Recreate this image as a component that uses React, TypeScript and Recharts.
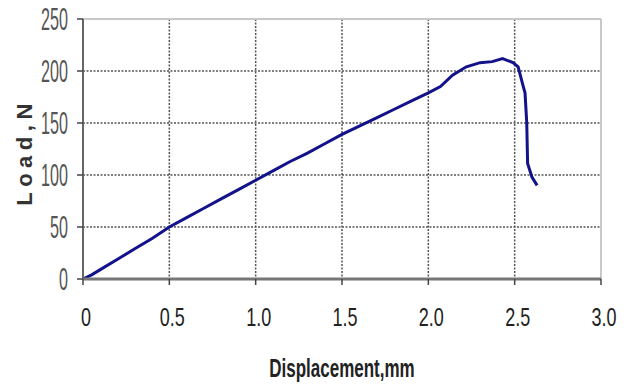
import { CartesianGrid, Line, LineChart, ReferenceLine, XAxis, YAxis } from "recharts"

// displacement (mm) and load (N)
const displacement = [
  0, 0.05, 0.1, 0.2, 0.3, 0.4, 0.5, 0.6, 0.7, 0.8, 0.9, 1.0, 1.1, 1.2, 1.3, 1.4, 1.5, 1.6, 1.7, 1.8, 1.9, 2.0,
  2.07, 2.14, 2.22, 2.3, 2.37, 2.43, 2.49, 2.52, 2.55, 2.56, 2.57, 2.575, 2.6, 2.63,
]
const load = [
  0, 4, 9, 19, 29, 39, 50, 59, 68, 77, 86, 95, 104, 113, 121, 130, 139, 147, 155, 163, 171, 179,
  185, 196, 204, 208, 209, 212, 208, 204, 185, 179, 150, 111, 98, 90,
]
const xTicks = [0, 0.5, 1.0, 1.5, 2.0, 2.5, 3.0]
const yTicks = [0, 50, 100, 150, 200, 250]

const data = displacement.map((x, i) => ({ x, load: load[i] }))

const sans = "'Liberation Sans', Arial, sans-serif"

function YTick({ x, y, payload }: { x?: number; y?: number; payload?: { value: number } }) {
  return (
    <g transform={`translate(${x},${y}) scale(0.95,1.8)`}>
      <text x={0} y={0} dy={6} textAnchor="end" fontFamily={sans} fontSize={17} fill="#555">
        {payload?.value}
      </text>
    </g>
  )
}

function XTick({ x, y, payload }: { x?: number; y?: number; payload?: { value: number } }) {
  const v = payload?.value ?? 0
  return (
    <g transform={`translate(${(x ?? 0) + 3},${(y ?? 0) + 41}) scale(1,1.4)`}>
      <text x={0} y={0} textAnchor="middle" fontFamily={sans} fontSize={18} fill="#222">
        {v === 0 ? "0" : v.toFixed(1)}
      </text>
    </g>
  )
}

function XTitle({ viewBox }: { viewBox?: { x: number; y: number; width: number } }) {
  const cx = (viewBox?.x ?? 0) + (viewBox?.width ?? 0) / 2
  return (
    <g transform={`translate(${cx},377) scale(0.85,1.33)`}>
      <text x={0} y={0} textAnchor="middle" fontFamily={sans} fontWeight="bold" fontSize={20} fill="#222">
        Displacement,mm
      </text>
    </g>
  )
}

function YTitle({ viewBox }: { viewBox?: { y: number; height: number } }) {
  const cy = (viewBox?.y ?? 0) + (viewBox?.height ?? 0) / 2 + 3
  return (
    <text
      x={32}
      y={cy}
      transform={`rotate(-90, 32, ${cy})`}
      textAnchor="middle"
      fontFamily={sans}
      fontWeight="bold"
      fontSize={22}
      letterSpacing={5.5}
      fill="#333"
    >
      Load,N
    </text>
  )
}

export default function App() {
  return (
    <div style={{ position: "absolute", left: 0, top: 0, background: "#fff" }}>
      <LineChart width={629} height={385} data={data} margin={{ top: 19, right: 28, bottom: 0, left: 0 }}>
        <CartesianGrid strokeDasharray="2 1.5" stroke="#555" strokeWidth={1.5} />
        <ReferenceLine y={250} stroke="#c8c8c8" strokeWidth={2} />
        <ReferenceLine x={3} stroke="#c8c8c8" strokeWidth={2} />
        <XAxis
          type="number"
          dataKey="x"
          domain={[0, 3]}
          ticks={xTicks}
          height={106}
          tickSize={6}
          tickMargin={0}
          axisLine={{ stroke: "#777", strokeWidth: 3 }}
          tickLine={{ stroke: "#444", strokeWidth: 1.5 }}
          tick={<XTick />}
          label={<XTitle />}
        />
        <YAxis
          type="number"
          domain={[0, 250]}
          ticks={yTicks}
          width={83}
          tickSize={6}
          tickMargin={9}
          axisLine={{ stroke: "#666", strokeWidth: 2 }}
          tickLine={{ stroke: "#444", strokeWidth: 1.5 }}
          tick={<YTick />}
          label={<YTitle />}
        />
        <Line
          type="linear"
          dataKey="load"
          stroke="#12128a"
          strokeWidth={3}
          dot={false}
          isAnimationActive={false}
        />
      </LineChart>
    </div>
  )
}
